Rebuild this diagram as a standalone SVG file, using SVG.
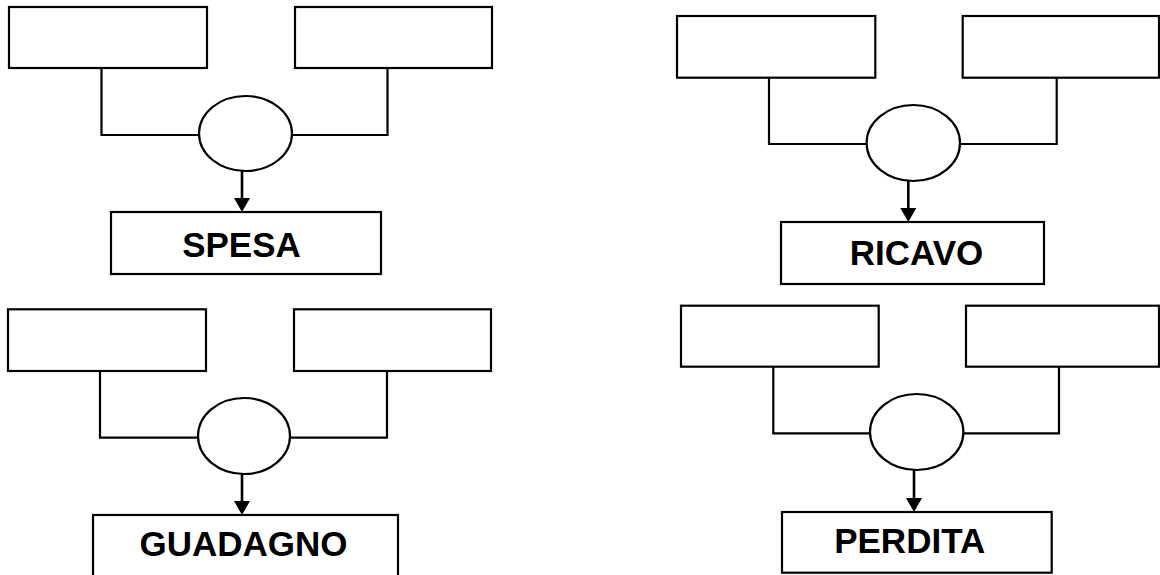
<svg xmlns="http://www.w3.org/2000/svg" width="1160" height="575" viewBox="0 0 1160 575">
<style>
.box{fill:#fff;stroke:#000;stroke-width:2.2}
.ell{fill:#fff;stroke:#000;stroke-width:2.2}
.ln{fill:none;stroke:#000;stroke-width:2.2}
.arr{fill:none;stroke:#000;stroke-width:2.6}
.lbl{font-family:"Liberation Sans",Arial,sans-serif;font-weight:bold;font-size:35px;fill:#000;text-anchor:middle}
</style>
<defs>
<marker id="ah" markerWidth="16" markerHeight="14" refX="8" refY="14" orient="auto-start-reverse" markerUnits="userSpaceOnUse" viewBox="0 0 16 14">
<path d="M0,0 L16,0 L8,14 Z" fill="#000"/>
</marker>
</defs>
<rect width="1160" height="575" fill="#fff"/>
<g id="connectors">
<path class="ln" d="M101.5,68 V135 H199"/>
<path class="ln" d="M387.5,68 V135 H292"/>
<line class="arr" x1="242" y1="171" x2="242" y2="198"/>
<path d="M234,198 L250,198 L242,212 Z" fill="#000"/>
<path class="ln" d="M769,78 V144 H867"/>
<path class="ln" d="M1056.7,78 V144 H960"/>
<line class="arr" x1="908.3" y1="181" x2="908.3" y2="208"/>
<path d="M900.3,208 L916.3,208 L908.3,222 Z" fill="#000"/>
<path class="ln" d="M100,371 V437.7 H198"/>
<path class="ln" d="M387,371 V437.7 H290"/>
<line class="arr" x1="242" y1="474" x2="242" y2="501"/>
<path d="M234,501 L250,501 L242,515 Z" fill="#000"/>
<path class="ln" d="M773.3,367 V433.3 H870"/>
<path class="ln" d="M1059,367 V433.3 H963"/>
<line class="arr" x1="914" y1="470" x2="914" y2="498"/>
<path d="M906,498 L922,498 L914,512 Z" fill="#000"/>
</g>
<g id="q1-left"><rect class="box" x="9" y="7" width="198" height="61"/></g>
<g id="q1-right"><rect class="box" x="295" y="7" width="197" height="61"/></g>
<g id="q1-op"><ellipse class="ell" cx="245.5" cy="133.5" rx="46.5" ry="37.5"/></g>
<g id="spesa"><rect class="box" x="111" y="212" width="270" height="62"/><text class="lbl" x="241.5" y="257">SPESA</text></g>
<g id="q2-left"><rect class="box" x="677" y="16" width="198.3" height="61.7"/></g>
<g id="q2-right"><rect class="box" x="962.7" y="16" width="196.3" height="61.7"/></g>
<g id="q2-op"><ellipse class="ell" cx="913.3" cy="143" rx="46.7" ry="38"/></g>
<g id="ricavo"><rect class="box" x="781" y="222" width="263" height="62"/><text class="lbl" x="916.5" y="265">RICAVO</text></g>
<g id="q3-left"><rect class="box" x="8" y="309.3" width="198" height="61.7"/></g>
<g id="q3-right"><rect class="box" x="294" y="309.3" width="197" height="61.7"/></g>
<g id="q3-op"><ellipse class="ell" cx="244" cy="436" rx="46" ry="38"/></g>
<g id="guadagno"><rect class="box" x="93" y="515" width="305" height="70"/><text class="lbl" x="243.5" y="555.7">GUADAGNO</text></g>
<g id="q4-left"><rect class="box" x="681" y="305.7" width="197.7" height="61"/></g>
<g id="q4-right"><rect class="box" x="966" y="305.7" width="193" height="61"/></g>
<g id="q4-op"><ellipse class="ell" cx="916.7" cy="432" rx="46.7" ry="38"/></g>
<g id="perdita"><rect class="box" x="782" y="512" width="269.7" height="60.7"/><text class="lbl" x="909.7" y="553.3">PERDITA</text></g>
</svg>
